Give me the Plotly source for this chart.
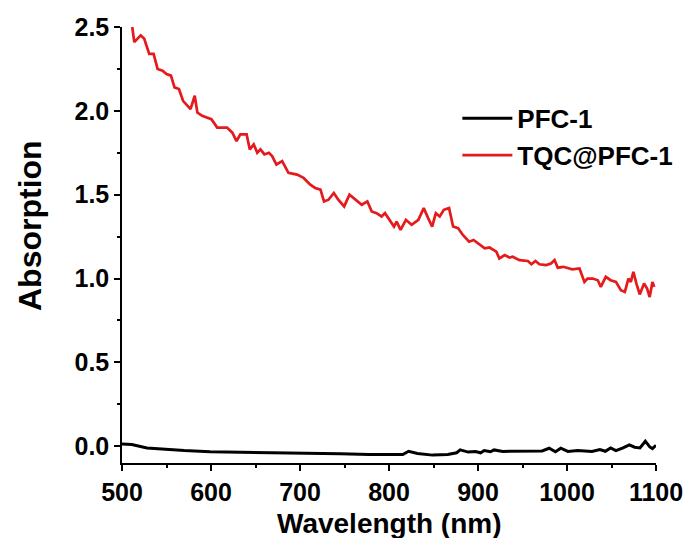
import plotly.graph_objects as go

# PFC-1 (black) spectrum
pfc_x = [500, 511, 528, 549, 570, 599, 632, 661, 695, 720, 745, 778, 803, 815.5, 822, 832,
         849, 866, 876, 880, 889, 897, 903, 907, 914, 918, 928, 945, 962, 972, 980, 987,
         993, 1001, 1012, 1028, 1037, 1043, 1049, 1055, 1063, 1070, 1076, 1082, 1088,
         1093, 1096, 1100]
pfc_y = [0.014, 0.010, -0.010, -0.020, -0.026, -0.033, -0.035, -0.041, -0.043, -0.043,
         -0.045, -0.049, -0.051, -0.049, -0.030, -0.043, -0.053, -0.049, -0.039, -0.022,
         -0.035, -0.031, -0.039, -0.026, -0.033, -0.022, -0.031, -0.030, -0.030, -0.028,
         -0.012, -0.033, -0.012, -0.031, -0.026, -0.031, -0.020, -0.030, -0.010, -0.026,
         -0.010, 0.008, -0.006, -0.010, 0.030, -0.004, -0.014, 0.006]

# TQC@PFC-1 (red) spectrum
tqc_x = [511.5, 513.8, 521, 525, 530.6, 535.5, 540, 545.5, 550, 555, 559, 564, 568.6,
         573.5, 577, 581.7, 584.7, 590, 596, 600.4, 607, 614.5, 618, 624, 628.7, 633, 640,
         643.6, 648, 652, 655.6, 660, 665, 668.7, 673.5, 680, 687, 696.7, 704, 711.6, 717,
         723, 727, 732, 738, 743, 749.6, 755.6, 762, 769.4, 775.7, 780.6, 786, 791.7,
         795.5, 801, 805.6, 808.6, 813, 819, 825.4, 833, 839, 844, 848.5, 852.6, 857,
         861.6, 867.5, 872, 877.6, 883, 890, 895, 902, 907.5, 913, 920.6, 924, 930, 935.4,
         939, 946.6, 956, 960, 964.6, 969, 976.5, 982, 986, 989.6, 996, 1002.6, 1006, 1014,
         1019.6, 1023, 1029, 1034.6, 1038, 1043.6, 1049, 1055, 1060.5, 1065, 1069, 1071.7,
         1074.6, 1078, 1081.7, 1086.6, 1090, 1092.9, 1096, 1098]
tqc_y = [2.50, 2.41, 2.45, 2.43, 2.34, 2.34, 2.25, 2.24, 2.22, 2.21, 2.14, 2.13, 2.06,
         2.03, 2.01, 2.09, 1.99, 1.97, 1.96, 1.95, 1.90, 1.90, 1.90, 1.87, 1.82, 1.86, 1.86,
         1.77, 1.80, 1.75, 1.77, 1.74, 1.75, 1.73, 1.68, 1.70, 1.63, 1.62, 1.60, 1.56, 1.54,
         1.53, 1.46, 1.47, 1.51, 1.47, 1.43, 1.50, 1.47, 1.44, 1.46, 1.40, 1.39, 1.37,
         1.39, 1.35, 1.31, 1.34, 1.29, 1.35, 1.32, 1.35, 1.42, 1.36, 1.31, 1.39, 1.37,
         1.41, 1.42, 1.31, 1.30, 1.26, 1.22, 1.23, 1.205, 1.18, 1.185, 1.16, 1.12, 1.14,
         1.125, 1.13, 1.11, 1.105, 1.085, 1.105, 1.085, 1.08, 1.09, 1.11, 1.065, 1.07, 1.06,
         1.055, 1.06, 0.98, 1.00, 1.00, 0.99, 0.95, 1.01, 0.99, 0.98, 0.93, 0.92, 1.00,
         0.98, 1.04, 0.97, 0.905, 0.97, 0.94, 0.89, 0.98, 0.95]

series_names = ["PFC-1", "TQC@PFC-1"]
x_title = "Wavelength (nm)"
y_title = "Absorption"

FONT = "Liberation Sans, Arial, sans-serif"

fig = go.Figure()
fig.add_trace(go.Scatter(x=pfc_x, y=pfc_y, mode="lines", name=series_names[0],
                         line=dict(color="#000000", width=3)))
fig.add_trace(go.Scatter(x=tqc_x, y=tqc_y, mode="lines", name=series_names[1],
                         line=dict(color="#e41a1c", width=2.7)))

axis_common = dict(
    showline=True, linecolor="black", linewidth=1.5, mirror=False,
    showgrid=False, zeroline=False, automargin=False,
    ticks="outside", ticklen=6, tickwidth=1.5, tickcolor="black",
    tickfont=dict(family=FONT, size=25, color="black", weight="bold"),
)

fig.update_layout(
    width=692, height=538,
    margin=dict(l=122, r=36, t=27, b=75),
    paper_bgcolor="white", plot_bgcolor="white",
    showlegend=True,
    legend=dict(x=0.628, y=0.748, xanchor="left", yanchor="middle",
                bgcolor="rgba(0,0,0,0)", borderwidth=0,
                font=dict(family=FONT, size=26, color="black", weight="bold"),
                itemwidth=50, tracegroupgap=0),
    xaxis=dict(range=[500, 1100], tickmode="linear", tick0=500, dtick=100,
               minor=dict(ticks="outside", ticklen=3, tickwidth=1.5, tickcolor="black",
                          dtick=50, tick0=500),
               **axis_common),
    yaxis=dict(range=[-0.1, 2.5], tickmode="linear", tick0=0, dtick=0.5,
               tickformat=".1f",
               minor=dict(ticks="outside", ticklen=3, tickwidth=1.5, tickcolor="black",
                          dtick=0.25, tick0=0),
               **axis_common),
    annotations=[
        dict(text=y_title, xref="paper", yref="paper",
             x=-(122 - 30) / 534, y=(463 - 226) / 436,
             xanchor="center", yanchor="middle", textangle=-90,
             showarrow=False,
             font=dict(family=FONT, size=32, color="black", weight="bold")),
        dict(text=x_title, xref="paper", yref="paper",
             x=0.5, y=-(523 - 463) / 436,
             xanchor="center", yanchor="middle", showarrow=False,
             font=dict(family=FONT, size=28, color="black", weight="bold")),
    ],
)

fig.write_html("out.html")
